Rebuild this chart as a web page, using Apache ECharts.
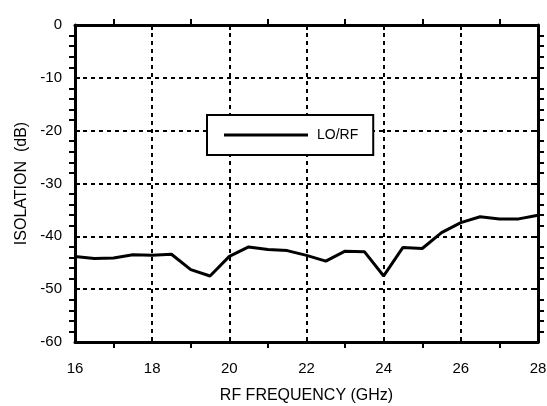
<!DOCTYPE html>
<html><head><meta charset="utf-8">
<script src="https://cdn.jsdelivr.net/npm/echarts@6/dist/echarts.min.js"></script>
<style>html,body{margin:0;padding:0;background:#fff}#c{width:547px;height:406px}</style>
</head><body><div id="c"></div>
<script>
var freqs = [16,16.5,17,17.5,18,18.5,19,19.5,20,20.5,21,21.5,22,22.5,23,23.5,24,24.5,25,25.5,26,26.5,27,27.5,28];
var isolation = [-43.8,-44.2,-44.1,-43.5,-43.6,-43.4,-46.3,-47.5,-43.8,-42.0,-42.5,-42.7,-43.6,-44.7,-42.8,-42.9,-47.5,-42.1,-42.3,-39.3,-37.4,-36.3,-36.7,-36.7,-36.0];
var seriesName = 'LO/RF';
var xTitle = 'RF FREQUENCY (GHz)';
var yTitle = 'ISOLATION  (dB)';

var font = 'Liberation Sans, Arial, Helvetica, sans-serif';
var pts = freqs.map(function(f,i){return [f, isolation[i]];});
function tickS(){return {show:true, inside:true, length:5, lineStyle:{color:'#000', width:2}};}
function minorS(n){return {show:true, splitNumber:n, length:-6, lineStyle:{color:'#000', width:2}};}
function axisLineS(){return {show:true, onZero:false, lineStyle:{color:'#000', width:3}};}
var chart = echarts.init(document.getElementById('c'));
chart.setOption({
  animation:false,
  backgroundColor:'#fff',
  grid:{left:75, right:9, top:25, bottom:64, containLabel:false, outerBoundsMode:'none'},
  legend:{
    show:true, left:207, top:115, orient:'horizontal',
    data:[{name:seriesName, icon:'rect'}],
    itemWidth:84, itemHeight:3,
    padding:[13,15,13,17],
    borderColor:'#000', borderWidth:2, backgroundColor:'#fff',
    textStyle:{fontFamily:font, fontSize:14, color:'#000', padding:[0,0,0,4]}
  },
  xAxis:[{
    type:'value', min:16, max:28, interval:2, position:'bottom',
    name:xTitle, nameLocation:'middle', nameGap:46,
    nameTextStyle:{fontFamily:font, fontSize:16, color:'#000'},
    axisLine:axisLineS(), axisTick:tickS(), minorTick:minorS(2),
    axisLabel:{fontFamily:font, fontSize:15, color:'#000', margin:19},
    splitLine:{show:true, lineStyle:{color:'#000', width:2, type:[4,4]}}
  },{
    type:'value', min:16, max:28, interval:2, position:'top',
    axisLine:axisLineS(), axisTick:tickS(), minorTick:minorS(2),
    axisLabel:{show:false}, splitLine:{show:false}
  }],
  yAxis:[{
    type:'value', min:-60, max:0, interval:10, position:'left',
    name:yTitle, nameLocation:'middle', nameGap:38,
    nameTextStyle:{fontFamily:font, fontSize:16, color:'#000'},
    axisLine:axisLineS(), axisTick:tickS(), minorTick:minorS(5),
    axisLabel:{fontFamily:font, fontSize:15, color:'#000', margin:13},
    splitLine:{show:true, lineStyle:{color:'#000', width:2, type:[4,4]}}
  },{
    type:'value', min:-60, max:0, interval:10, position:'right',
    axisLine:axisLineS(), axisTick:tickS(), minorTick:minorS(5),
    axisLabel:{show:false}, splitLine:{show:false}
  }],
  series:[{
    name:seriesName, type:'line', data:pts, showSymbol:false, symbol:'none',
    color:'#000', lineStyle:{color:'#000', width:3}, itemStyle:{color:'#000'}
  }]
});
</script></body></html>
